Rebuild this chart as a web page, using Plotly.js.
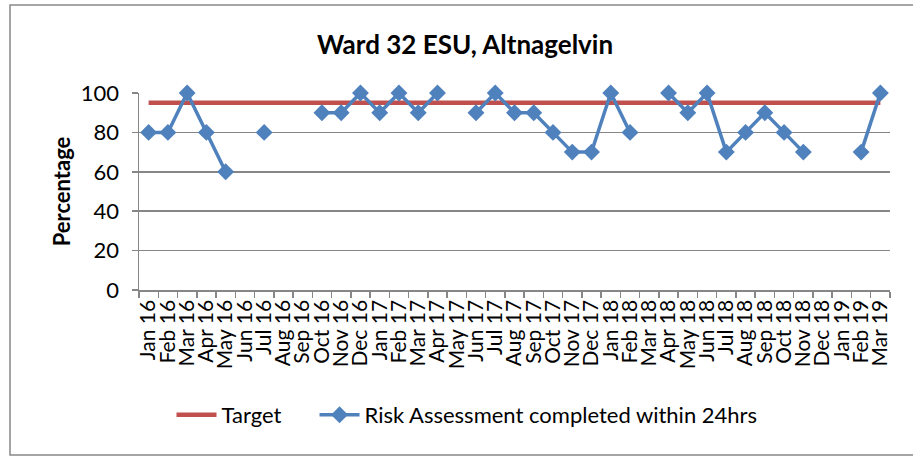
<!DOCTYPE html>
<html>
<head>
<meta charset="utf-8">
<script src="https://cdn.plot.ly/plotly-3.0.1.min.js"></script>
<style>html,body{margin:0;padding:0;background:#fff;}#chart{width:913px;height:457px;}</style>
</head>
<body>
<div id="chart"></div>
<script>
const months = ["Jan 16","Feb 16","Mar 16","Apr 16","May 16","Jun 16","Jul 16","Aug 16","Sep 16","Oct 16","Nov 16","Dec 16",
  "Jan 17","Feb 17","Mar 17","Apr 17","May 17","Jun 17","Jul 17","Aug 17","Sep 17","Oct 17","Nov 17","Dec 17",
  "Jan 18","Feb 18","Mar 18","Apr 18","May 18","Jun 18","Jul 18","Aug 18","Sep 18","Oct 18","Nov 18","Dec 18",
  "Jan 19","Feb 19","Mar 19"];
const target = [95,95,95,95,95,95,95,95,95,95,95,95,
  95,95,95,95,95,95,95,95,95,95,95,95,
  95,95,95,95,95,95,95,95,95,95,95,95,
  95,95,95];
const riskAssessment = [80,80,100,80,60,null,80,null,null,90,90,100,
  90,100,90,100,null,90,100,90,90,80,70,70,
  100,80,null,100,90,100,70,80,90,80,70,null,
  null,70,100];
const yTicks = [0,20,40,60,80,100];

const font = "Lato, 'Open Sans', sans-serif";
const L = 139, R = 890, T = 93, B = 290;
const W = R - L, H = B - T;
const px = x => (x - L) / W;
const py = y => (B - y) / H;

const traces = [
  {x: months, y: target, name: "Target&nbsp;&nbsp;&nbsp;&nbsp;&nbsp;", type: "scatter", mode: "lines",
   line: {color: "#C0504D", width: 4.5}, cliponaxis: false},
  {x: months, y: riskAssessment, name: "Risk Assessment completed within 24hrs", type: "scatter", mode: "lines+markers",
   line: {color: "#4F81BD", width: 3.5}, marker: {symbol: "diamond", size: 13, color: "#4F81BD"},
   connectgaps: false, cliponaxis: false}
];

const layout = {
  width: 913, height: 457,
  margin: {l: L, r: 913 - R, t: T, b: 457 - B},
  paper_bgcolor: "#fff", plot_bgcolor: "#fff",
  font: {family: font, color: "#000"},
  title: {text: "<b>Ward 32 ESU, Altnagelvin</b>", font: {family: font, size: 26, color: "#000"},
          x: 465 / 913, xanchor: "center", y: 1 - 45 / 457, yanchor: "middle"},
  xaxis: {type: "category", tickmode: "array", tickvals: months, ticktext: months,
          tickangle: -90, tickfont: {family: font, size: 21, color: "#000"},
          tickson: "boundaries", ticks: "outside", ticklen: 6, tickcolor: "#868686", tickwidth: 1.5,
          showline: true, linecolor: "#868686", linewidth: 1.5, showgrid: false, zeroline: false,
          range: [-0.5, months.length - 0.5], automargin: false, fixedrange: true},
  yaxis: {range: [0, 100], tickmode: "array", tickvals: yTicks,
          tickfont: {family: font, size: 22, color: "#000"}, ticklabelstandoff: 8,
          ticks: "outside", ticklen: 6, tickcolor: "#868686", tickwidth: 1.5,
          showline: true, linecolor: "#868686", linewidth: 1.5,
          showgrid: true, gridcolor: "#868686", gridwidth: 1.5, zeroline: false,
          title: {text: "<b>Percentage</b>", font: {family: font, size: 22, color: "#000"}, standoff: 4},
          automargin: false, fixedrange: true},
  showlegend: true,
  legend: {orientation: "h", x: px(467), xanchor: "center", y: py(415), yanchor: "middle",
           font: {family: font, size: 22, color: "#000"}, bgcolor: "rgba(0,0,0,0)", itemwidth: 40},
  shapes: [{type: "rect", xref: "paper", yref: "paper", x0: px(10), x1: px(916), y0: py(455), y1: py(5),
            line: {color: "#888", width: 1.5}, fillcolor: "rgba(0,0,0,0)", layer: "below"}]
};

Plotly.newPlot("chart", traces, layout, {displayModeBar: false, staticPlot: true});
</script>
</body>
</html>
